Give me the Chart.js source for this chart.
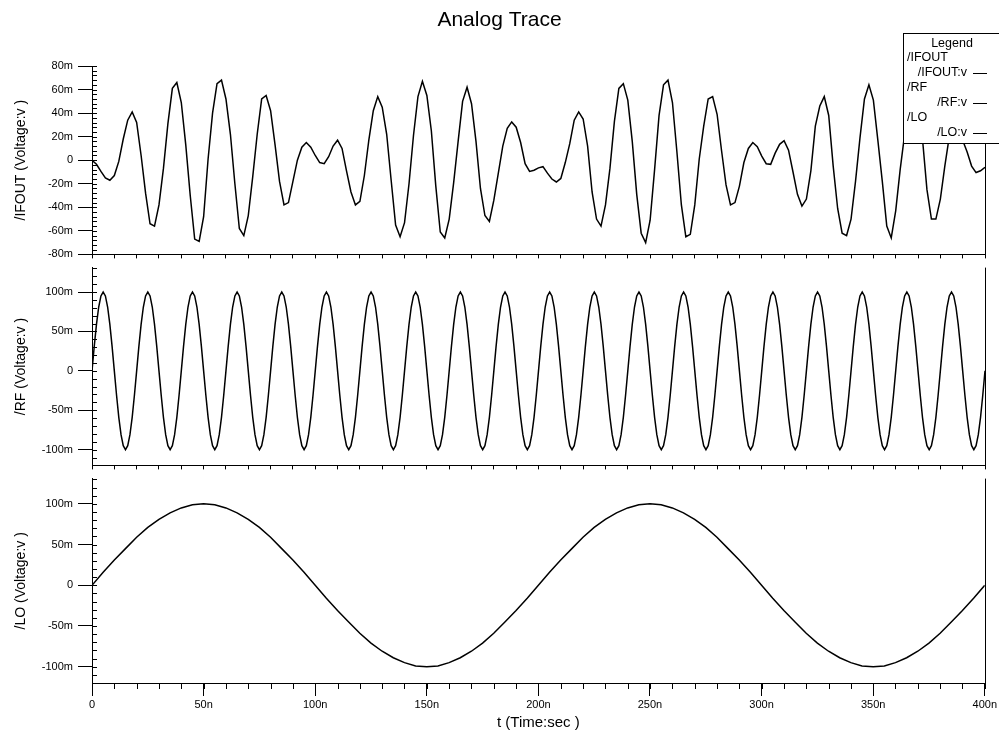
<!DOCTYPE html>
<html>
<head>
<meta charset="utf-8">
<title>Analog Trace</title>
<script src="https://cdn.jsdelivr.net/npm/chart.js@4.4.1/dist/chart.umd.min.js"></script>
<style>
    html, body { margin: 0; padding: 0; background: #fff; }
    #wrap { position: relative; width: 999px; height: 732px; overflow: hidden; background: #fff; }
    #wrap canvas { position: absolute; left: 0; }
</style>
</head>
<body>
<div id="wrap">
    <canvas id="c1" width="999" height="266" style="top:0px"></canvas>
    <canvas id="c2" width="999" height="221" style="top:256px"></canvas>
    <canvas id="c3" width="999" height="265" style="top:467px"></canvas>
</div>
<script>
addEventListener("DOMContentLoaded", init);

const chartTitle = "Analog Trace";
const xTitle = "t (Time:sec )";
const yTitles = ["/IFOUT (Voltage:v )", "/RF (Voltage:v )", "/LO (Voltage:v )"];
const legendGroups = ["/IFOUT", "/RF", "/LO"];
const legendSignals = ["/IFOUT:v", "/RF:v", "/LO:v"];

// tick values (time in ns, voltages in mV)
const timeTicks = [0, 50, 100, 150, 200, 250, 300, 350, 400];
const ifoutTicks = [-80, -60, -40, -20, 0, 20, 40, 60, 80];
const rfTicks = [-100, -50, 0, 50, 100];
const loTicks = [-100, -50, 0, 50, 100];

// time step of each trace, in ns
const ifoutStep = 2;
const rfStep = 1;
const loStep = 5;

// values in mV
const ifoutMv = [
    0, -3.5, -9.5, -15, -17, -13, -1, 18, 34, 41,
    32, 4, -28, -54, -56, -38, -7, 31, 61, 66,
    49, 13, -30, -67, -69, -48, 1, 40, 65, 68,
    52, 22, -20, -58, -64, -47, -14, 22, 52, 55,
    42, 13, -18, -38, -36, -18, 0, 11, 15, 11,
    4, -2, -3, 3, 12, 17, 10, -9, -27, -38,
    -35, -13, 17, 42, 54, 45, 22, -17, -55, -65,
    -53, -20, 21, 54, 67, 55, 25, -22, -61, -66,
    -50, -19, 16, 50, 62, 48, 16, -24, -47, -52,
    -34, -11, 12, 27, 32.5, 28, 15, -3, -9.5, -8.5,
    -6.5, -5.5, -11, -16, -18.5, -15.5, -2, 14, 34, 41,
    35, 12, -27, -50, -56, -38, -7, 33, 61, 65,
    51, 16, -29, -62, -70, -51, -8, 38, 64, 68,
    49, 7, -38, -65, -63, -38, 1, 29, 52, 54,
    39, 8, -21, -38, -36, -22, -2, 10, 15, 11.5,
    3.5, -3, -3.5, 6, 13.5, 16.5, 8.5, -10, -29, -39,
    -33, -9, 29, 46, 54, 38, -5, -41, -62, -64,
    -50, -18, 19, 52, 64, 51, 17, -18, -56, -66,
    -43, -8, 22, 48, 60, 50, 18, -25, -50, -50,
    -33, -5, 20, 32, 33, 17, 7, -5, -10.5, -9,
    -6
];

const rfMv = [
    0, 31, 59, 81, 95, 100, 95, 81, 59, 31, 0, -31, -59, -81, -95, -100, -95, -81, -59, -31,
    0, 31, 59, 81, 95, 100, 95, 81, 59, 31, 0, -31, -59, -81, -95, -100, -95, -81, -59, -31,
    0, 31, 59, 81, 95, 100, 95, 81, 59, 31, 0, -31, -59, -81, -95, -100, -95, -81, -59, -31,
    0, 31, 59, 81, 95, 100, 95, 81, 59, 31, 0, -31, -59, -81, -95, -100, -95, -81, -59, -31,
    0, 31, 59, 81, 95, 100, 95, 81, 59, 31, 0, -31, -59, -81, -95, -100, -95, -81, -59, -31,
    0, 31, 59, 81, 95, 100, 95, 81, 59, 31, 0, -31, -59, -81, -95, -100, -95, -81, -59, -31,
    0, 31, 59, 81, 95, 100, 95, 81, 59, 31, 0, -31, -59, -81, -95, -100, -95, -81, -59, -31,
    0, 31, 59, 81, 95, 100, 95, 81, 59, 31, 0, -31, -59, -81, -95, -100, -95, -81, -59, -31,
    0, 31, 59, 81, 95, 100, 95, 81, 59, 31, 0, -31, -59, -81, -95, -100, -95, -81, -59, -31,
    0, 31, 59, 81, 95, 100, 95, 81, 59, 31, 0, -31, -59, -81, -95, -100, -95, -81, -59, -31,
    0, 31, 59, 81, 95, 100, 95, 81, 59, 31, 0, -31, -59, -81, -95, -100, -95, -81, -59, -31,
    0, 31, 59, 81, 95, 100, 95, 81, 59, 31, 0, -31, -59, -81, -95, -100, -95, -81, -59, -31,
    0, 31, 59, 81, 95, 100, 95, 81, 59, 31, 0, -31, -59, -81, -95, -100, -95, -81, -59, -31,
    0, 31, 59, 81, 95, 100, 95, 81, 59, 31, 0, -31, -59, -81, -95, -100, -95, -81, -59, -31,
    0, 31, 59, 81, 95, 100, 95, 81, 59, 31, 0, -31, -59, -81, -95, -100, -95, -81, -59, -31,
    0, 31, 59, 81, 95, 100, 95, 81, 59, 31, 0, -31, -59, -81, -95, -100, -95, -81, -59, -31,
    0, 31, 59, 81, 95, 100, 95, 81, 59, 31, 0, -31, -59, -81, -95, -100, -95, -81, -59, -31,
    0, 31, 59, 81, 95, 100, 95, 81, 59, 31, 0, -31, -59, -81, -95, -100, -95, -81, -59, -31,
    0, 31, 59, 81, 95, 100, 95, 81, 59, 31, 0, -31, -59, -81, -95, -100, -95, -81, -59, -31,
    0, 31, 59, 81, 95, 100, 95, 81, 59, 31, 0, -31, -59, -81, -95, -100, -95, -81, -59, -31,
    0
];

const loMv = [
    0, 16, 31, 45, 59, 71, 81, 89, 95, 99, 100, 99, 95, 89, 81, 71, 59, 45, 31, 16,
    0, -16, -31, -45, -59, -71, -81, -89, -95, -99, -100, -99, -95, -89, -81, -71, -59, -45, -31, -16,
    0, 16, 31, 45, 59, 71, 81, 89, 95, 99, 100, 99, 95, 89, 81, 71, 59, 45, 31, 16,
    0, -16, -31, -45, -59, -71, -81, -89, -95, -99, -100, -99, -95, -89, -81, -71, -59, -45, -31, -16,
    0
];

const FONT = "\"Liberation Sans\", Arial, Helvetica, sans-serif";

function points(values, step) {
    return values.map(function (v, i) {
        return { x: i * step, y: v };
    });
}

function milli(v) {
    return v === 0 ? "0" : v + "m";
}

function fixedTicks(list) {
    return function (s) {
        s.ticks = list.map(function (v) { return { value: v }; });
    };
}

// small ticks inside the y axis, small ticks under the x axis, right frame
const minorTicks = {
    id: "minorTicks",
    afterDraw(chart, args, opts) {
        const ctx = chart.ctx;
        const a = chart.chartArea;
        const x = chart.scales.x;
        const y = chart.scales.y;
        ctx.save();
        ctx.strokeStyle = "#000";
        ctx.lineWidth = 1;
        ctx.beginPath();
        for (let v = Math.ceil(y.min / opts.yMinor) * opts.yMinor; v <= y.max; v += opts.yMinor) {
            const py = Math.round(y.getPixelForValue(v)) + 0.5;
            ctx.moveTo(a.left, py);
            ctx.lineTo(a.left + 5, py);
        }
        if (opts.xMinorLen) {
            for (let t = 0; t <= 400; t += 10) {
                const px = Math.round(x.getPixelForValue(t)) + 0.5;
                ctx.moveTo(px, a.bottom);
                ctx.lineTo(px, a.bottom + opts.xMinorLen);
            }
        }
        ctx.moveTo(Math.round(a.right) + 0.5, a.top);
        ctx.lineTo(Math.round(a.right) + 0.5, a.bottom);
        ctx.stroke();
        ctx.restore();
    }
};

// title on top and the boxed legend in the top right corner
const titleLegend = {
    id: "titleLegend",
    afterDraw(chart) {
        const ctx = chart.ctx;
        ctx.save();
        ctx.fillStyle = "#000";
        ctx.textBaseline = "middle";
        ctx.textAlign = "center";
        ctx.font = "21px " + FONT;
        ctx.fillText(chartTitle, chart.width / 2, 20);

        ctx.fillStyle = "#fff";
        ctx.fillRect(903, 33, 110, 110);
        ctx.strokeStyle = "#000";
        ctx.lineWidth = 1;
        ctx.strokeRect(903.5, 33.5, 110, 110);

        ctx.fillStyle = "#000";
        ctx.font = "12.5px " + FONT;
        ctx.fillText("Legend", 952, 44);
        for (let i = 0; i < legendGroups.length; i++) {
            const yg = 57.5 + i * 30;
            ctx.textAlign = "left";
            ctx.fillText(legendGroups[i], 907, yg);
            ctx.textAlign = "right";
            ctx.fillText(legendSignals[i], 967, yg + 15);
            ctx.beginPath();
            ctx.moveTo(973, Math.round(yg + 15) + 0.5);
            ctx.lineTo(987, Math.round(yg + 15) + 0.5);
            ctx.stroke();
        }
        ctx.restore();
    }
};

function panel(id, cfg) {
    const xAxis = {
        type: "linear",
        min: 0,
        max: 400,
        afterFit: function (s) { s.height = cfg.xHeight; },
        border: { color: "#000", width: 1 },
        grid: { drawOnChartArea: false, color: "#000", tickColor: "#000", tickLength: cfg.bottom ? 13 : 4 },
        ticks: cfg.bottom ? {
            autoSkip: false, maxRotation: 0, padding: 2,
            color: "#000", font: { family: FONT, size: 11 },
            callback: function (v) { return v === 0 ? "0" : v + "n"; }
        } : { stepSize: 10, maxTicksLimit: 100, display: false },
        title: {
            display: cfg.bottom,
            text: xTitle,
            color: "#000",
            font: { family: FONT, size: 15 },
            padding: { top: 0, bottom: 0 }
        }
    };
    if (cfg.bottom) {
        xAxis.afterBuildTicks = fixedTicks(timeTicks);
    }

    return new Chart(document.getElementById(id), {
        type: "line",
        data: {
            datasets: [{
                data: points(cfg.values, cfg.step),
                borderColor: "#000",
                borderWidth: 1.5,
                pointRadius: 0,
                tension: 0,
                fill: false
            }]
        },
        options: {
            responsive: false,
            animation: false,
            devicePixelRatio: 1,
            events: [],
            layout: { padding: { top: cfg.padTop, right: 14, left: 0, bottom: 0 } },
            plugins: {
                legend: { display: false },
                tooltip: { enabled: false },
                minorTicks: { yMinor: cfg.yMinor, xMinorLen: cfg.bottom ? 6 : 0 }
            },
            scales: {
                x: xAxis,
                y: {
                    type: "linear",
                    min: cfg.yMin,
                    max: cfg.yMax,
                    afterBuildTicks: fixedTicks(cfg.yTicks),
                    afterFit: function (s) { s.width = 92; },
                    border: { color: "#000", width: 1 },
                    grid: { drawOnChartArea: false, color: "#000", tickColor: "#000", tickLength: 14 },
                    ticks: {
                        padding: 5,
                        color: "#000",
                        font: { family: FONT, size: 11 },
                        callback: milli
                    },
                    title: {
                        display: true,
                        text: cfg.yTitle,
                        color: "#000",
                        font: { family: FONT, size: 14 },
                        padding: { top: 13, bottom: 0 }
                    }
                }
            }
        },
        plugins: cfg.extra ? [minorTicks, cfg.extra] : [minorTicks]
    });
}

function init() {
    panel("c1", {
        values: ifoutMv, step: ifoutStep, yMin: -80, yMax: 80, yTicks: ifoutTicks, yMinor: 4,
        yTitle: yTitles[0], padTop: 66, xHeight: 6, bottom: false, extra: titleLegend
    });
    panel("c2", {
        values: rfMv, step: rfStep, yMin: -120, yMax: 131, yTicks: rfTicks, yMinor: 10,
        yTitle: yTitles[1], padTop: 6, xHeight: 6, bottom: false
    });
    panel("c3", {
        values: loMv, step: loStep, yMin: -120, yMax: 131, yTicks: loTicks, yMinor: 10,
        yTitle: yTitles[2], padTop: 6, xHeight: 49, bottom: true
    });
}
</script>
</body>
</html>
